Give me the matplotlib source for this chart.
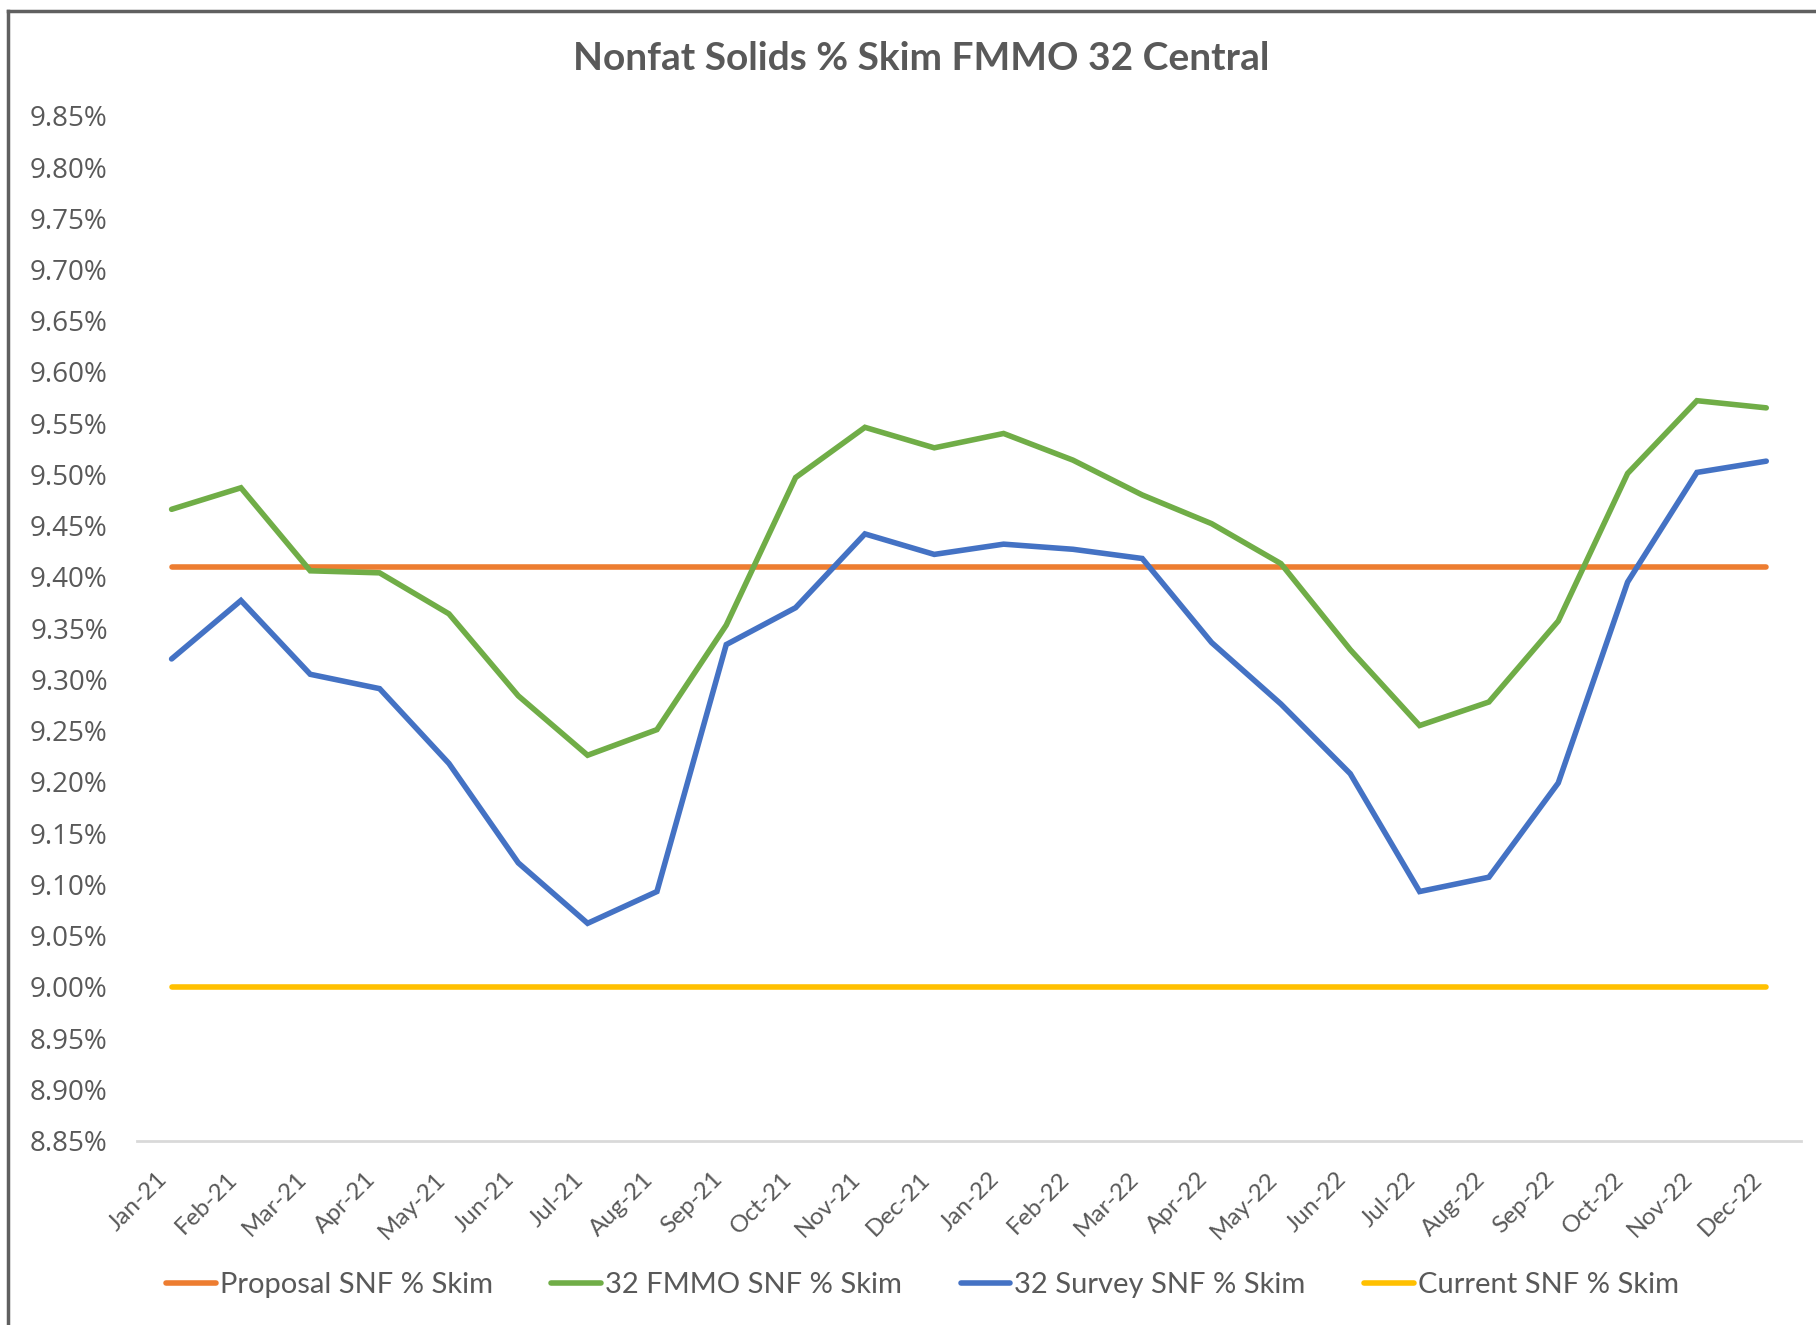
import matplotlib
matplotlib.use("Agg")
import matplotlib.pyplot as plt
from matplotlib.ticker import MultipleLocator, FuncFormatter
from matplotlib.lines import Line2D

# dados
meses = ["Jan-21", "Feb-21", "Mar-21", "Apr-21", "May-21", "Jun-21",
         "Jul-21", "Aug-21", "Sep-21", "Oct-21", "Nov-21", "Dec-21",
         "Jan-22", "Feb-22", "Mar-22", "Apr-22", "May-22", "Jun-22",
         "Jul-22", "Aug-22", "Sep-22", "Oct-22", "Nov-22", "Dec-22"]

proposta = [9.41] * 24
fmmo = [9.466, 9.487, 9.406, 9.404, 9.364, 9.284, 9.226, 9.251, 9.353, 9.497,
        9.546, 9.526, 9.540, 9.514, 9.480, 9.452, 9.413, 9.329, 9.255, 9.278,
        9.357, 9.501, 9.572, 9.565]
survey = [9.320, 9.377, 9.305, 9.291, 9.218, 9.121, 9.062, 9.093, 9.334, 9.370,
          9.442, 9.422, 9.432, 9.427, 9.418, 9.336, 9.276, 9.208, 9.093, 9.107,
          9.199, 9.395, 9.502, 9.513]
atual = [9.00] * 24

series = [
    ("Proposal SNF % Skim", proposta, "#ED7D31"),
    ("32 FMMO SNF % Skim", fmmo, "#70AD47"),
    ("32 Survey SNF % Skim", survey, "#4472C4"),
    ("Current SNF % Skim", atual, "#FFC000"),
]

cinza = "#595959"

fig = plt.figure(figsize=(18.16, 13.25), dpi=100)
ax = fig.add_axes([0.0754, 0.1392, 0.9163, 0.7734])

x = list(range(len(meses)))
for nome, valores, cor in series:
    ax.plot(x, valores, color=cor, linewidth=4, label=nome,
            solid_capstyle="round", solid_joinstyle="miter")

ax.set_xlim(-0.5, len(meses) - 0.5)
ax.set_ylim(8.85, 9.85)
ax.yaxis.set_major_locator(MultipleLocator(0.05))
ax.yaxis.set_major_formatter(FuncFormatter(lambda v, p: f"{v:.2f}%"))
ax.set_xticks(x)
ax.set_xticklabels(meses, rotation=45, ha="right", va="top",
                   fontsize=17.5, color=cinza, family="Lato")

for rotulo in ax.get_yticklabels():
    rotulo.set_family("Open Sans")
ax.tick_params(axis="y", length=0, pad=21, labelsize=20, labelcolor=cinza)
ax.tick_params(axis="x", length=0, pad=20)

for lado in ["top", "right", "left"]:
    ax.spines[lado].set_visible(False)
ax.spines["bottom"].set_color("#D9D9D9")
ax.spines["bottom"].set_linewidth(2)

fig.text(0.507, 0.956, "Nonfat Solids % Skim FMMO 32 Central",
         ha="center", va="center", fontsize=28, fontweight="bold",
         color=cinza, family="Lato")

ax.legend(loc="center", bbox_to_anchor=(0.508, 0.030),
          bbox_transform=fig.transFigure, ncol=4, frameon=False,
          prop={"family": "Lato", "size": 21}, labelcolor=cinza,
          handlelength=1.7, handletextpad=0.15, columnspacing=2.0)

# moldura (so esquerda e topo aparecem no recorte)
fig.add_artist(Line2D([0.0046, 0.0046], [0, 0.992], transform=fig.transFigure,
                      color="#606060", linewidth=2.5))
fig.add_artist(Line2D([0.0046, 1.0], [0.992, 0.992], transform=fig.transFigure,
                      color="#606060", linewidth=2.5))

fig.savefig("out.png", dpi=100)
